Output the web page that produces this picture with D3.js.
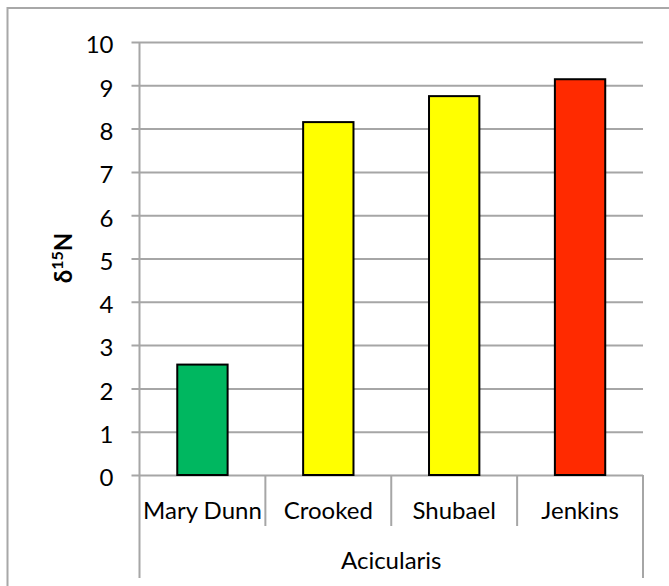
<!DOCTYPE html>
<html>
<head>
<meta charset="utf-8">
<script src="https://cdn.jsdelivr.net/npm/d3@7"></script>
<style>
  html, body { margin: 0; padding: 0; background: #fff; }
  svg { display: block; font-family: Lato, "Open Sans", sans-serif; }
</style>
</head>
<body>
<svg id="chart" width="669" height="586"></svg>
<script>
// δ15N values by site (Acicularis group)
const categories = ["Mary Dunn", "Crooked", "Shubael", "Jenkins"];
const values = [2.55, 8.15, 8.75, 9.14];
const barColors = ["#00b760", "#ffff00", "#ffff00", "#ff2a00"];
const yTicks = [0, 1, 2, 3, 4, 5, 6, 7, 8, 9, 10];
const groupLabel = "Acicularis";

const svg = d3.select("#chart");
const W = 669, H = 586;
const margin = { left: 139.5, right: 26, top: 42, bottom: 111 };
const plotW = W - margin.left - margin.right;   // ≈ 504
const plotH = H - margin.top - margin.bottom;   // ≈ 433
const fontSize = 24;

const gridColor = "#a6a6a6";

// outer chart-area frame (open at right and bottom)
svg.append("path")
  .attr("d", `M7.5,${H + 2}V8H${W + 2}`)
  .attr("fill", "none")
  .attr("stroke", "#a8a8a8")
  .attr("stroke-width", 2);

const g = svg.append("g").attr("transform", `translate(${margin.left},${margin.top})`);

const x = d3.scaleBand().domain(categories).range([0, plotW]).paddingInner(0.6).paddingOuter(0.3);
const xCat = d3.scaleBand().domain(categories).range([0, plotW]);
const y = d3.scaleLinear().domain([0, 10]).range([plotH, 0]);

// horizontal gridlines + y axis
const yAxis = d3.axisLeft(y).tickValues(yTicks).tickSize(-plotW).tickPadding(26).tickFormat(d3.format("d"));
const ya = g.append("g").call(yAxis);
ya.attr("font-size", fontSize).attr("font-family", "Lato, 'Open Sans', sans-serif");
ya.select(".domain").remove();
ya.selectAll(".tick line")
  .attr("x1", -8)
  .attr("stroke", gridColor)
  .attr("stroke-width", 2);
ya.selectAll(".tick text")
  .attr("fill", "#000")
  .attr("dy", "0.45em");

// vertical axis line
g.append("line")
  .attr("x1", 0).attr("x2", 0)
  .attr("y1", 0).attr("y2", plotH + 103)
  .attr("stroke", gridColor).attr("stroke-width", 2);

// category separators below the axis
const sepX = categories.slice(1).map(c => xCat(c));
g.selectAll("line.sep").data(sepX).enter().append("line")
  .attr("class", "sep")
  .attr("x1", d => d).attr("x2", d => d)
  .attr("y1", plotH).attr("y2", plotH + 51)
  .attr("stroke", gridColor).attr("stroke-width", 2);

g.append("line")
  .attr("x1", plotW).attr("x2", plotW)
  .attr("y1", plotH).attr("y2", plotH + 103)
  .attr("stroke", gridColor).attr("stroke-width", 2);

// bars
g.selectAll("rect.bar").data(values).enter().append("rect")
  .attr("class", "bar")
  .attr("x", (d, i) => x(categories[i]))
  .attr("width", x.bandwidth())
  .attr("y", d => y(d))
  .attr("height", d => y(0) - y(d))
  .attr("fill", (d, i) => barColors[i])
  .attr("stroke", "#000")
  .attr("stroke-width", 2);

// category labels
g.selectAll("text.cat").data(categories).enter().append("text")
  .attr("class", "cat")
  .attr("x", d => xCat(d) + xCat.bandwidth() / 2)
  .attr("y", plotH + 44)
  .attr("text-anchor", "middle")
  .attr("font-size", fontSize)
  .attr("fill", "#000")
  .text(d => d);

// group label
g.append("text")
  .attr("x", plotW / 2)
  .attr("y", plotH + 94)
  .attr("text-anchor", "middle")
  .attr("font-size", fontSize)
  .attr("fill", "#000")
  .text(groupLabel);

// y-axis title: δ15N
const yt = svg.append("text")
  .attr("transform", `translate(72,258) rotate(-90)`)
  .attr("text-anchor", "middle")
  .attr("font-size", fontSize)
  .attr("font-weight", "bold")
  .attr("fill", "#000");
yt.append("tspan").text("δ");
yt.append("tspan").attr("font-size", 16).attr("dy", -9).text("15");
yt.append("tspan").attr("dy", 9).text("N");
</script>
</body>
</html>
